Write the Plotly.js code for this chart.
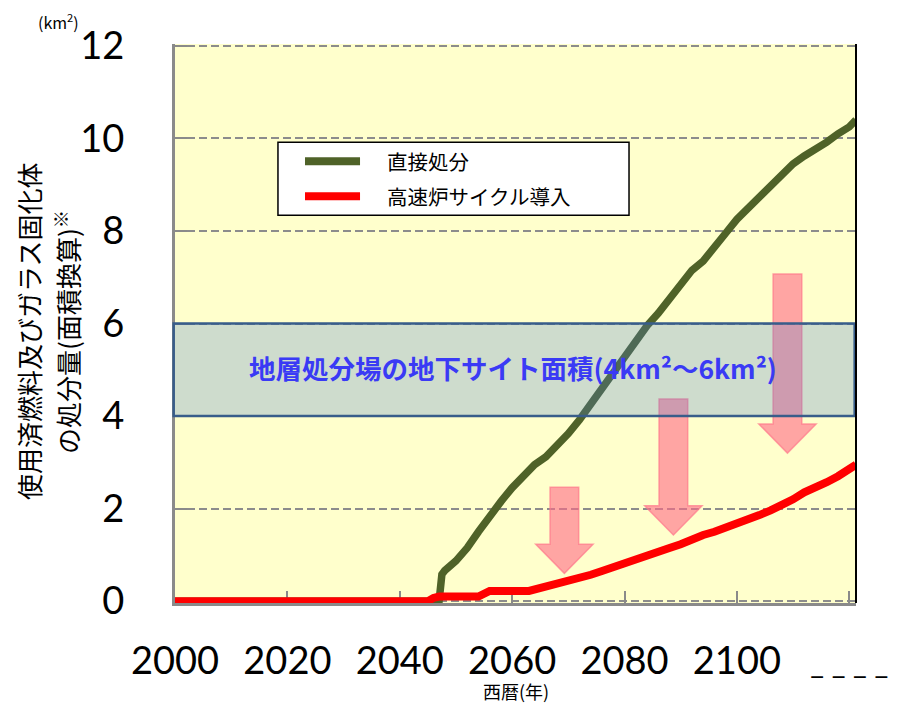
<!DOCTYPE html>
<html>
<head>
<meta charset="utf-8">
<script src="https://cdn.plot.ly/plotly-3.0.1.min.js"></script>
<style>
  html, body { margin: 0; padding: 0; background: #ffffff; }
  #chart { width: 897px; height: 706px; }
</style>
</head>
<body>
<div id="chart"></div>
<script>
// 直接処分: cumulative disposal area (km²) by year
const directYears = [2000, 2047, 2047.5, 2048, 2050, 2052, 2054, 2056, 2058, 2060, 2062, 2064, 2066, 2068, 2070,
  2072, 2074, 2076, 2078, 2080, 2082, 2084, 2086, 2088, 2090, 2092, 2094, 2096, 2098, 2100,
  2102, 2104, 2106, 2108, 2110, 2112, 2114, 2116, 2118, 2120, 2121.2];
const directArea = [0, 0, 0.58, 0.66, 0.87, 1.15, 1.5, 1.85, 2.15, 2.45, 2.7, 2.95, 3.12, 3.35, 3.62,
  3.92, 4.25, 4.6, 4.95, 5.3, 5.62, 5.95, 6.22, 6.55, 6.85, 7.15, 7.35, 7.62, 7.95, 8.25,
  8.5, 8.72, 9.0, 9.25, 9.45, 9.62, 9.75, 9.92, 10.1, 10.25, 10.4];

// 高速炉サイクル導入: cumulative disposal area (km²) by year
const fbrYears = [2000, 2045, 2046, 2047, 2054, 2055, 2056, 2063, 2064, 2066, 2068, 2070, 2072, 2074,
  2076, 2078, 2080, 2082, 2084, 2086, 2088, 2090, 2092, 2094, 2096, 2098, 2100, 2102, 2104,
  2106, 2108, 2110, 2112, 2114, 2116, 2118, 2120, 2121.2];
const fbrArea = [0, 0, 0.07, 0.1, 0.1, 0.18, 0.22, 0.22, 0.25, 0.3, 0.37, 0.45, 0.52, 0.57,
  0.65, 0.74, 0.83, 0.91, 0.98, 1.07, 1.15, 1.23, 1.34, 1.43, 1.5, 1.58, 1.67, 1.76, 1.86,
  1.96, 2.07, 2.2, 2.35, 2.45, 2.57, 2.7, 2.86, 2.95];

const seriesNames = ['直接処分', '高速炉サイクル導入'];
const seriesColors = ['#4f6228', '#ff0000'];

const xTickVals = [2000, 2020, 2040, 2060, 2080, 2100, 2120];
const xTickText = ['2000', '2020', '2040', '2060', '2080', '2100',
  '<span style="font-size:30px">_ _ _ _</span>'];
const yTickVals = [0, 2, 4, 6, 8, 10, 12];

// underground site area of the repository
const siteLow = 4;
const siteHigh = 6;
const siteLabel = '地層処分場の地下サイト面積(4km²～6km²)';

// reduction arrows: centre year, top value, tip value
const arrowX = [2069.3, 2088.7, 2109.0];
const arrowTop = [2.46, 4.37, 7.07];
const arrowTip = [0.6, 1.43, 3.2];

const CJK = '"Noto Sans CJK JP", "Noto Sans", sans-serif';
const NUM = 'Lato, "Open Sans", sans-serif';

const traces = [
  { x: directYears, y: directArea, name: seriesNames[0], type: 'scatter', mode: 'lines',
    line: { color: seriesColors[0], width: 7.5 }, hoverinfo: 'x+y' },
  { x: fbrYears, y: fbrArea, name: seriesNames[1], type: 'scatter', mode: 'lines',
    line: { color: seriesColors[1], width: 8 }, hoverinfo: 'x+y' }
];

// block arrows drawn as closed paths in data space
const SHAFT = 2.55, HEAD = 5.1, HEADLEN = 0.63;
const shapes = arrowX.map((x, i) => {
  const t = arrowTop[i], tip = arrowTip[i], h = tip + HEADLEN;
  return {
    type: 'path', xref: 'x', yref: 'y', layer: 'above',
    path: `M${x - SHAFT},${t} L${x + SHAFT},${t} L${x + SHAFT},${h} L${x + HEAD},${h} ` +
          `L${x},${tip} L${x - HEAD},${h} L${x - SHAFT},${h} Z`,
    fillcolor: 'rgba(255,105,135,0.6)',
    line: { color: 'rgba(255,120,140,0.7)', width: 1.5 }
  };
});

// repository band
shapes.push({
  type: 'rect', xref: 'paper', yref: 'y', layer: 'above',
  x0: -0.002, x1: 0.998, y0: siteLow, y1: siteHigh,
  fillcolor: 'rgba(80,130,210,0.28)',
  line: { color: '#385d8a', width: 2.5 }
});

// right frame edge
shapes.push({
  type: 'line', xref: 'paper', yref: 'paper', layer: 'above',
  x0: 1, x1: 1, y0: 0, y1: 1,
  line: { color: '#000000', width: 2 }
});

// legend box with sample lines
shapes.push({
  type: 'rect', xref: 'paper', yref: 'paper', layer: 'above',
  x0: 0.1512, x1: 0.6667, y0: 0.6935, y1: 0.8244,
  fillcolor: '#ffffff', line: { color: '#000000', width: 1.5 }
});
const legendY = [0.7903, 0.7276];
seriesColors.forEach((c, i) => {
  shapes.push({
    type: 'line', xref: 'paper', yref: 'paper', layer: 'above',
    x0: 0.1909, x1: 0.2717, y0: legendY[i], y1: legendY[i],
    line: { color: c, width: 8 }
  });
});

const annotations = [
  { text: siteLabel, xref: 'paper', yref: 'y', x: 0.497, y: (siteLow + siteHigh) / 2 + 0.04,
    xanchor: 'center', yanchor: 'middle',
    showarrow: false, font: { family: CJK, size: 26.5, color: '#3a3af5', weight: 'bold' } },
  { text: '(km<sup>2</sup>)', xref: 'paper', yref: 'paper', x: 0, y: 1, xshift: -117, yshift: 23,
    xanchor: 'center', yanchor: 'middle',
    showarrow: false, font: { family: CJK, size: 16, color: '#000' } },
  { text: '使用済燃料及びガラス固化体', xref: 'paper', yref: 'paper', x: 0, y: 0.485, xshift: -146,
    xanchor: 'center', yanchor: 'middle',
    textangle: -90, showarrow: false, font: { family: CJK, size: 26, color: '#000' } },
  { text: 'の処分量(面積換算)<sup>※</sup>', xref: 'paper', yref: 'paper', x: 0, y: 0.485, xshift: -108,
    xanchor: 'center', yanchor: 'middle',
    textangle: -90, showarrow: false, font: { family: CJK, size: 26, color: '#000' } },
  { text: '西暦(年)', xref: 'paper', yref: 'paper', x: 0.5, y: 0, yshift: -88,
    xanchor: 'center', yanchor: 'middle',
    showarrow: false, font: { family: CJK, size: 18, color: '#000' } }
];
seriesNames.forEach((n, i) => {
  annotations.push({
    text: n, xref: 'paper', yref: 'paper', x: 0.3084, y: legendY[i],
    xanchor: 'left', yanchor: 'middle',
    showarrow: false, font: { family: CJK, size: 20.5, color: '#000' }
  });
});

const axisCommon = {
  ticks: 'inside', ticklen: 12, tickwidth: 2, tickcolor: '#8a8a8a',
  showline: true, linecolor: '#8a8a8a', linewidth: 3,
  zeroline: false, layer: 'below traces', ticklabeloverflow: 'allow',
  tickfont: { family: NUM, size: 38, color: '#000' }
};

const layout = {
  width: 897, height: 706,
  margin: { l: 175, r: 41, t: 44, b: 103 },
  paper_bgcolor: '#ffffff', plot_bgcolor: '#ffffcc',
  showlegend: false,
  xaxis: Object.assign({}, axisCommon, {
    range: [2000, 2121.2], tickmode: 'array', tickvals: xTickVals, ticktext: xTickText,
    showgrid: false, ticklabelstandoff: 22
  }),
  yaxis: Object.assign({}, axisCommon, {
    range: [-0.04, 12.04], tickmode: 'array', tickvals: yTickVals,
    showgrid: true, gridcolor: '#8c8c8c', gridwidth: 2, griddash: '8px,4px',
    ticklabelstandoff: 40
  }),
  shapes: shapes,
  annotations: annotations
};

Plotly.newPlot('chart', traces, layout, { displayModeBar: false, staticPlot: true });
</script>
</body>
</html>
